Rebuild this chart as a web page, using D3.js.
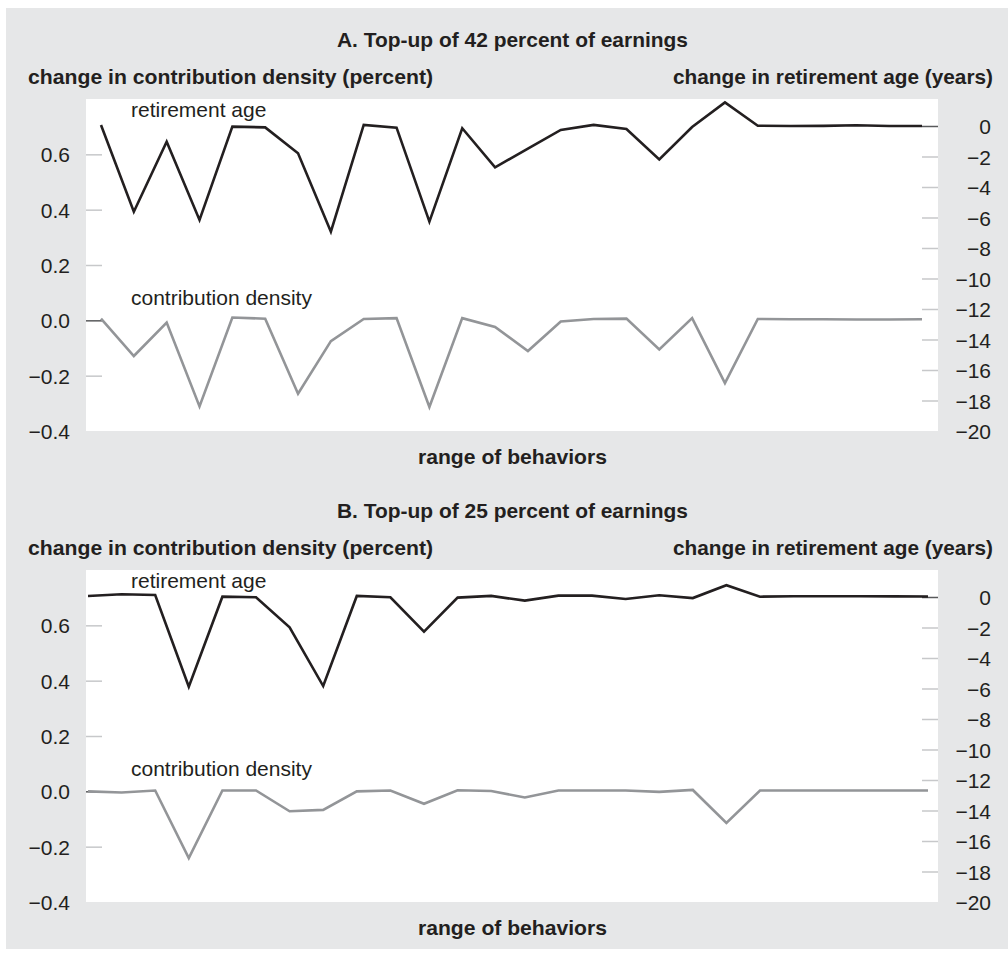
<!DOCTYPE html>
<html>
<head>
<meta charset="utf-8">
<script src="https://cdn.jsdelivr.net/npm/d3@7"></script>
<style>
  html, body { margin: 0; padding: 0; background: #ffffff; }
  svg { display: block; }
  text { font-family: "Liberation Sans", Arial, Helvetica, sans-serif; fill: #231f20; }
</style>
</head>
<body>
<svg id="chart" width="1008" height="955"></svg>
<script>
// ---- data ----
const behaviors = [1,2,3,4,5,6,7,8,9,10,11,12,13,14,15,16,17,18,19,20,21,22,23,24,25,26];

const panelTitles = ["A. Top-up of 42 percent of earnings", "B. Top-up of 25 percent of earnings"];
const leftAxisTitle = "change in contribution density (percent)";
const rightAxisTitle = "change in retirement age (years)";
const xAxisTitle = "range of behaviors";
const seriesNames = ["retirement age", "contribution density"];

const leftTicks = [-0.4, -0.2, 0.0, 0.2, 0.4, 0.6];
const rightTicks = [-20, -18, -16, -14, -12, -10, -8, -6, -4, -2, 0];

// Panel A (top-up of 42 percent)
const retireA = [0.07, -5.62, -1.03, -6.16, -0.04, -0.09, -1.79, -6.93, 0.07, -0.11, -6.27, -0.15, -2.71, -1.48, -0.26, 0.07, -0.20, -2.19, -0.07, 1.55, 0.02, 0.00, 0.01, 0.05, 0.00, 0.00];
const contribA = [0.006, -0.129, -0.008, -0.311, 0.010, 0.006, -0.265, -0.075, 0.005, 0.008, -0.313, 0.008, -0.024, -0.111, -0.004, 0.005, 0.006, -0.105, 0.008, -0.227, 0.005, 0.004, 0.004, 0.003, 0.003, 0.004];

// Panel B (top-up of 25 percent)
const retireB = [0.07, 0.18, 0.13, -5.88, 0.02, -0.02, -1.99, -5.84, 0.07, -0.02, -2.27, -0.04, 0.07, -0.24, 0.09, 0.09, -0.13, 0.11, -0.07, 0.77, 0.02, 0.05, 0.05, 0.05, 0.04, 0.03];
const contribB = [0.000, -0.004, 0.003, -0.241, 0.003, 0.003, -0.072, -0.067, 0.000, 0.003, -0.045, 0.004, 0.001, -0.022, 0.003, 0.003, 0.003, -0.002, 0.005, -0.114, 0.003, 0.003, 0.003, 0.003, 0.003, 0.003];

// ---- layout ----
const svg = d3.select("#chart");
const FONT = 21;
const BLACK = "#231f20";
const GREY = "#939598";
const BG = "#e6e7e8";
const TICK = "#c7c8ca";

svg.append("rect").attr("x", 6).attr("y", 8).attr("width", 1002).attr("height", 941).attr("fill", BG);

const fmtLeft = d => d3.format(".1f")(d).replace("-", "\u2212");
const fmtRight = d => String(d).replace("-", "\u2212");

const panels = [
  { title: panelTitles[0], retire: retireA, contrib: contribA, top: 99, xr: [101, 922] },
  { title: panelTitles[1], retire: retireB, contrib: contribB, top: 570, xr: [88, 928] }
];

const plotLeft = 86, plotRight = 938, plotH = 332;

panels.forEach(p => {
  const g = svg.append("g");
  const top = p.top, bottom = top + plotH;

  // titles
  g.append("text").attr("x", 512.5).attr("y", top - 52).attr("text-anchor", "middle")
    .attr("font-size", FONT).attr("font-weight", "bold")
    .attr("textLength", 351).attr("lengthAdjust", "spacingAndGlyphs").text(p.title);
  g.append("text").attr("x", 28).attr("y", top - 15)
    .attr("font-size", FONT).attr("font-weight", "bold")
    .attr("textLength", 405).attr("lengthAdjust", "spacingAndGlyphs").text(leftAxisTitle);
  g.append("text").attr("x", 993).attr("y", top - 15).attr("text-anchor", "end")
    .attr("font-size", FONT).attr("font-weight", "bold")
    .attr("textLength", 320).attr("lengthAdjust", "spacingAndGlyphs").text(rightAxisTitle);
  g.append("text").attr("x", 512.5).attr("y", bottom + 33).attr("text-anchor", "middle")
    .attr("font-size", FONT).attr("font-weight", "bold")
    .attr("textLength", 189).attr("lengthAdjust", "spacingAndGlyphs").text(xAxisTitle);

  // plot area
  g.append("rect").attr("x", plotLeft).attr("y", top).attr("width", plotRight - plotLeft)
    .attr("height", plotH).attr("fill", "#ffffff");

  const x = d3.scalePoint().domain(behaviors).range(p.xr);
  const yL = d3.scaleLinear().domain([-0.4, 0.8]).range([bottom, top]);
  const yR = d3.scaleLinear().domain([-20, 1.77]).range([bottom, top]);

  // left axis
  const leftAxis = d3.axisLeft(yL).tickValues(leftTicks).tickSize(0).tickPadding(0).tickFormat(fmtLeft);
  const la = g.append("g").attr("transform", `translate(70,0)`).call(leftAxis);
  la.select(".domain").remove();
  la.selectAll("text").attr("font-size", FONT).attr("fill", BLACK)
    .attr("font-family", "'Liberation Sans', Arial, sans-serif").attr("dy", "0.36em");
  // left tick marks inside plot
  const lt = d3.axisRight(yL).tickValues(leftTicks.filter(v => v > -0.4)).tickSize(16).tickFormat("");
  const ltg = g.append("g").attr("transform", `translate(${plotLeft},0)`).call(lt);
  ltg.select(".domain").remove();
  ltg.selectAll("line").attr("stroke", d => d === 0 ? "#58595b" : TICK).attr("stroke-width", 1.5);

  // right axis
  const rightAxis = d3.axisRight(yR).tickValues(rightTicks).tickSize(0).tickPadding(0).tickFormat(fmtRight);
  const ra = g.append("g").attr("transform", `translate(991,0)`).call(rightAxis);
  ra.select(".domain").remove();
  ra.selectAll("text").attr("font-size", FONT).attr("fill", BLACK).attr("text-anchor", "end")
    .attr("font-family", "'Liberation Sans', Arial, sans-serif").attr("dy", "0.36em");
  const rt = d3.axisLeft(yR).tickValues(rightTicks.filter(v => v > -20)).tickSize(16).tickFormat("");
  const rtg = g.append("g").attr("transform", `translate(${plotRight},0)`).call(rt);
  rtg.select(".domain").remove();
  rtg.selectAll("line").attr("stroke", d => d === 0 ? "#58595b" : TICK).attr("stroke-width", 1.5);

  // lines
  const lineR = d3.line().x((d, i) => x(behaviors[i])).y(d => yR(d));
  const lineL = d3.line().x((d, i) => x(behaviors[i])).y(d => yL(d));
  g.append("path").datum(p.contrib).attr("d", lineL).attr("fill", "none")
    .attr("stroke", GREY).attr("stroke-width", 2.6).attr("stroke-linejoin", "miter");
  g.append("path").datum(p.retire).attr("d", lineR).attr("fill", "none")
    .attr("stroke", BLACK).attr("stroke-width", 2.6).attr("stroke-linejoin", "miter");

  // series labels
  g.append("text").attr("x", 131).attr("y", top + 18).attr("font-size", FONT).text(seriesNames[0]);
  g.append("text").attr("x", 131).attr("y", top + 206).attr("font-size", FONT).text(seriesNames[1]);
});
</script>
</body>
</html>
